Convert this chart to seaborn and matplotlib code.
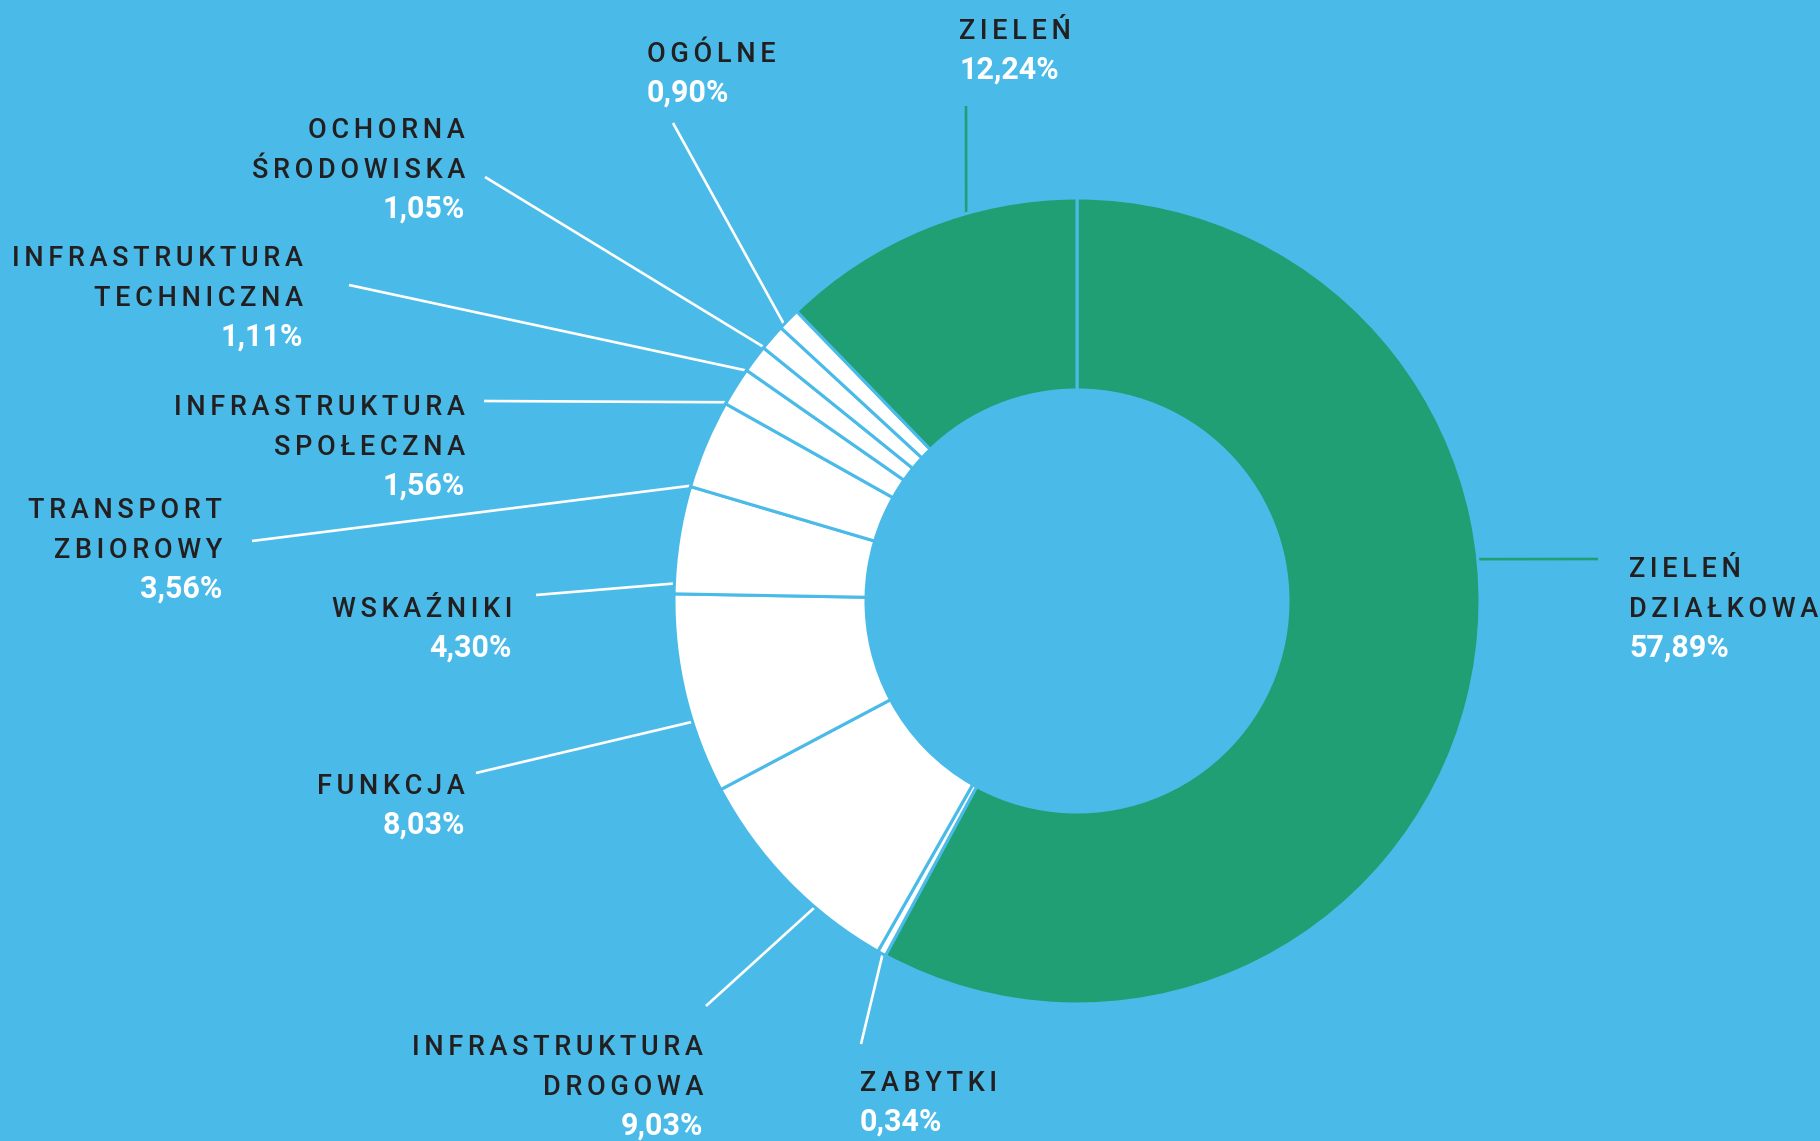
import numpy as np
import matplotlib
matplotlib.use("Agg")
import matplotlib.pyplot as plt
import seaborn as sns

# Dane: udział kategorii (%)
kategorie = ["ZIELEŃ\nDZIAŁKOWA", "ZABYTKI", "INFRASTRUKTURA\nDROGOWA", "FUNKCJA",
             "WSKAŹNIKI", "TRANSPORT\nZBIOROWY", "INFRASTRUKTURA\nSPOŁECZNA",
             "INFRASTRUKTURA\nTECHNICZNA", "OCHORNA\nŚRODOWISKA", "OGÓLNE", "ZIELEŃ"]
udzialy = [57.89, 0.34, 9.03, 8.03, 4.30, 3.56, 1.56, 1.11, 1.05, 0.90, 12.24]
grupa = ["zielen", "inne", "inne", "inne", "inne", "inne", "inne", "inne", "inne", "inne", "zielen"]

# Kolory
TLO = "#4ABBE8"
ZIELONY = "#209E74"
BIALY = "#FFFFFF"
TEKST = "#231F20"
kolory_grup = {"zielen": ZIELONY, "inne": BIALY}

# Układ (piksele od lewego górnego rogu)
W, H = 1820, 1141
SRODEK = (1077, 601)
R_ZEW = 403
GRUBOSC = 192
etykiety_xy = [(1629, 577, "left"), (860, 1091, "left"), (703, 1055, "right"),
               (465, 794, "right"), (512, 617, "right"), (222, 518, "right"),
               (465, 415, "right"), (303, 266, "right"), (465, 138, "right"),
               (647, 62, "left"), (959, 39, "left")]
linie_start = [(1598, 559), (861, 1044), (706, 1006), (476, 773), (536, 595),
               (252, 541), (484, 401), (349, 285), (485, 177), (673, 123), (966, 106)]
linie_frac = [0.403, 0.5, 0.335, 0.36, 0.1, 0.03, 0.1, 0.05, 0.05, 0.15, 0.634]
ODSTEP = 40

sns.set_theme(style="white", rc={"figure.facecolor": TLO, "axes.facecolor": TLO})
plt.rcParams["font.family"] = ["Roboto", "DejaVu Sans"]

fig = plt.figure(figsize=(W / 100, H / 100), dpi=100)
ax = fig.add_axes([0, 0, 1, 1])

kolory = [kolory_grup[g] for g in grupa]
kliny, _ = ax.pie(udzialy, colors=kolory, startangle=90, counterclock=False,
                  radius=R_ZEW, center=(SRODEK[0], H - SRODEK[1]),
                  wedgeprops=dict(width=GRUBOSC, edgecolor=TLO, linewidth=2.2))
for k in kliny:
    k.set_zorder(3)

def rozstaw(s):
    # rozstrzelenie liter
    return "\u2006".join(s)

for klin, nazwa, v, g, (tx, ty, ha), (lx, ly), f in zip(
        kliny, kategorie, udzialy, grupa, etykiety_xy, linie_start, linie_frac):
    # linia odniesienia do krawędzi klina
    kat = np.deg2rad(klin.theta2 - f * (klin.theta2 - klin.theta1))
    ex = SRODEK[0] + (R_ZEW - 4) * np.cos(kat)
    ey = (H - SRODEK[1]) + (R_ZEW - 4) * np.sin(kat)
    ax.plot([lx, ex], [H - ly, ey], color=kolory_grup[g], lw=1.9,
            solid_capstyle="butt", zorder=2)
    # opis
    wiersze = nazwa.split("\n")
    for i, w in enumerate(wiersze):
        ax.text(tx, H - (ty + i * ODSTEP), rozstaw(w), ha=ha, va="baseline",
                fontsize=19.5, color=TEKST, fontweight="medium")
    proc = f"{v:.2f}".replace(".", ",") + "%"
    ax.text(tx, H - (ty + len(wiersze) * ODSTEP), proc, ha=ha, va="baseline",
            fontsize=22, color=BIALY, fontweight="bold")

ax.set_xlim(0, W)
ax.set_ylim(0, H)
ax.set_aspect("equal")
ax.axis("off")

plt.savefig("out.png", dpi=100, facecolor=TLO)
